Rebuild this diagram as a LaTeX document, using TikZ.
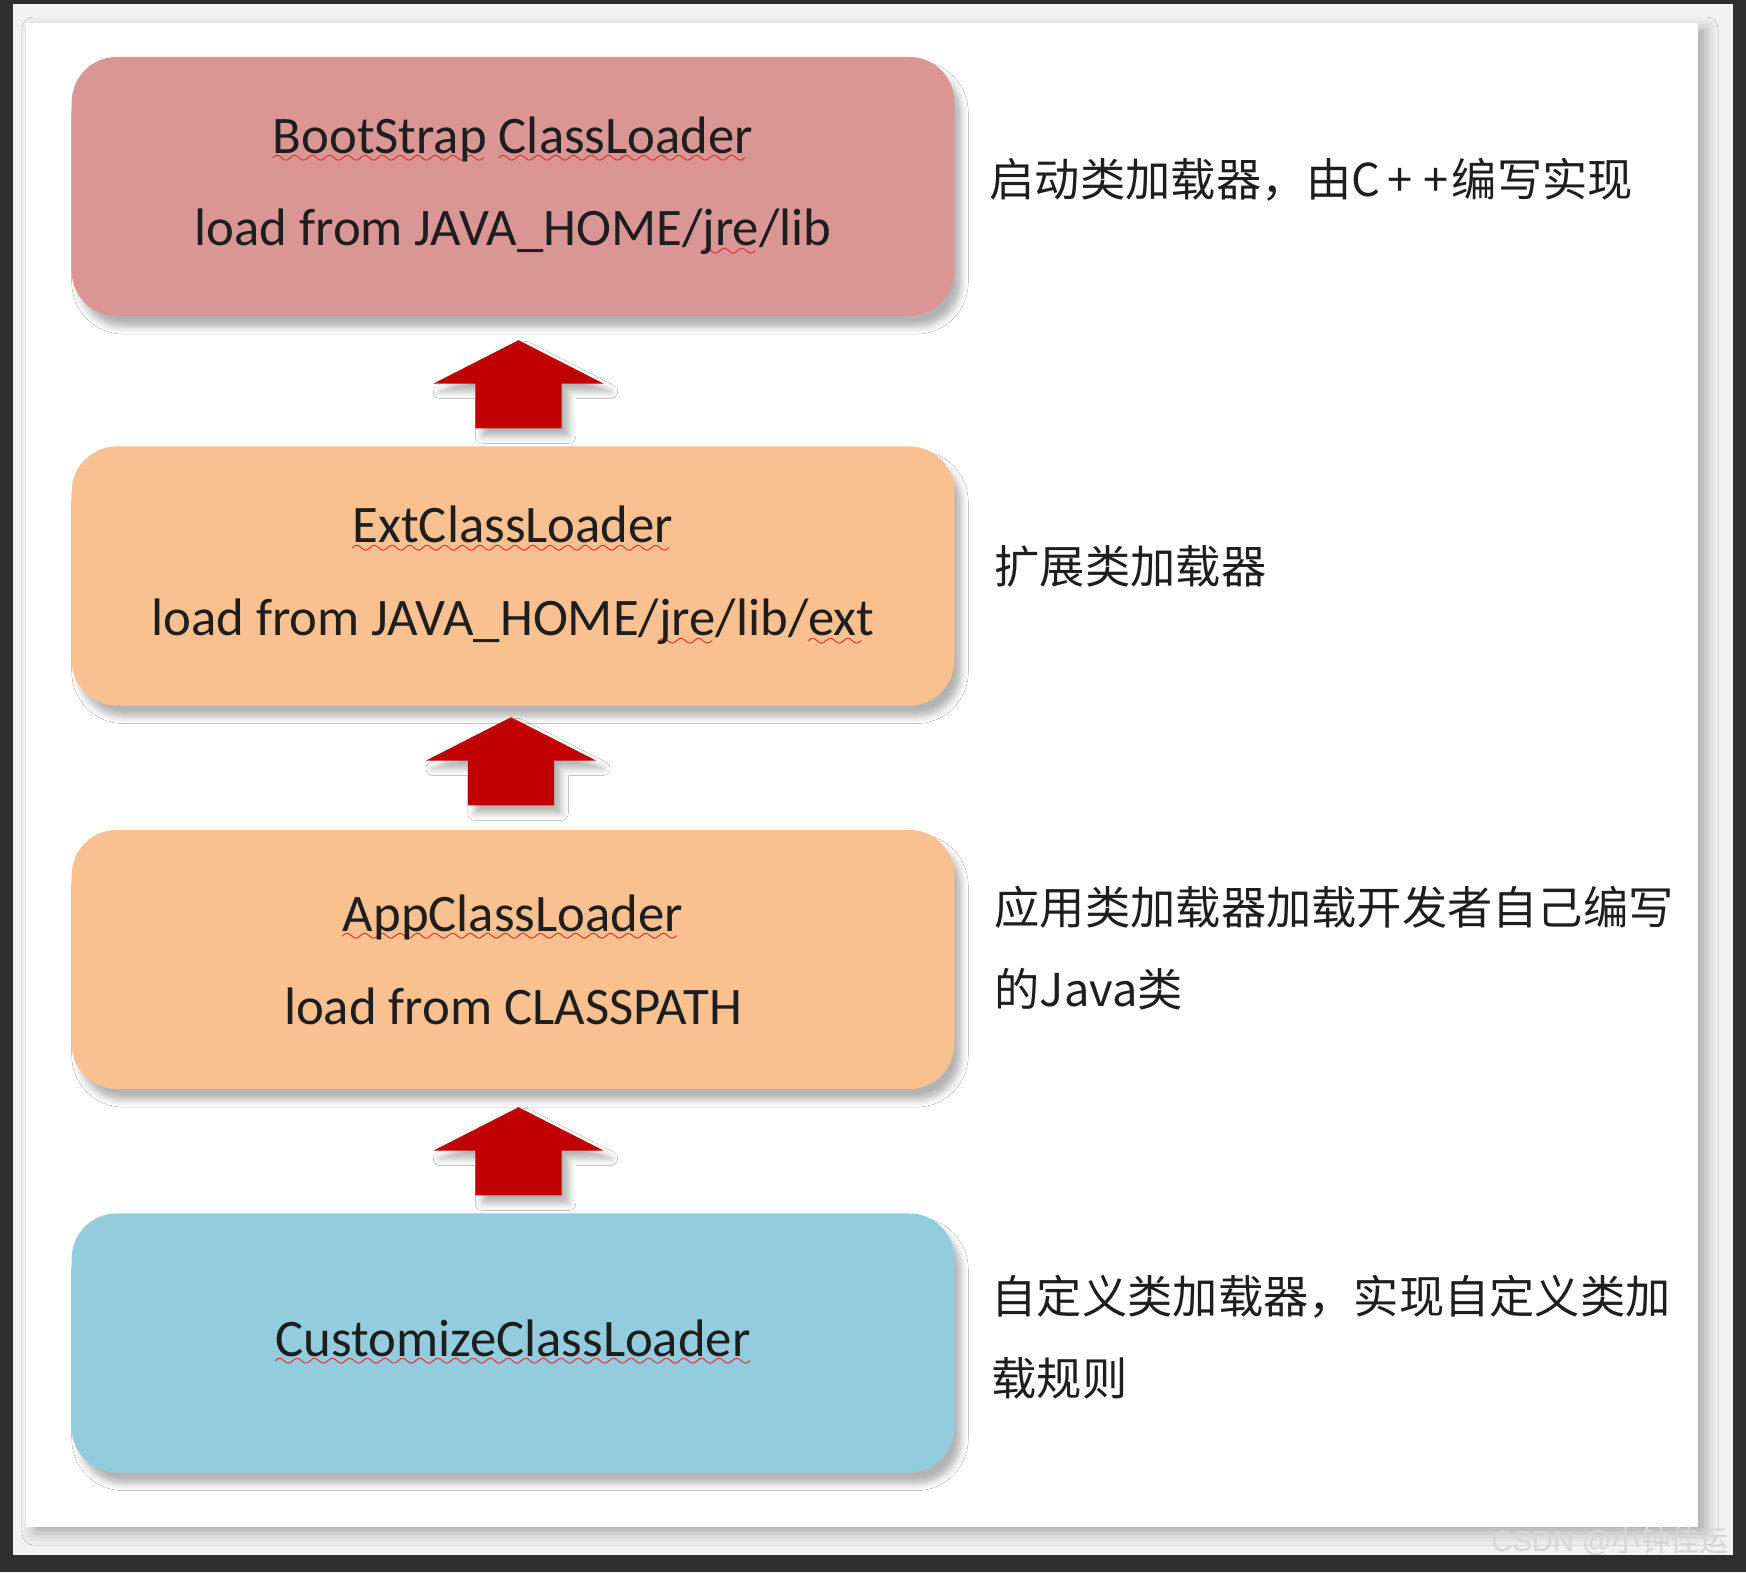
\documentclass[tikz,border=0pt]{standalone}
\usepackage{fontspec}
\setmainfont{Carlito}
\newfontfamily\cjk{Noto Sans CJK SC}
\newfontfamily\marksans{Liberation Sans}
\usetikzlibrary{shapes.arrows,shadows.blur,calc}

\definecolor{pagebg}{RGB}{46,46,46}
\definecolor{bandgray}{RGB}{242,242,242}
\definecolor{bootpink}{RGB}{217,150,148}
\definecolor{extorange}{RGB}{249,192,144}
\definecolor{custblue}{RGB}{147,205,221}
\definecolor{arrowred}{RGB}{192,0,0}
\definecolor{spellred}{RGB}{232,40,40}
\definecolor{inkgray}{RGB}{30,30,30}
\definecolor{markgray}{RGB}{214,214,214}

% red wavy spell-check underline
\font\wavefont=lasy6
\newbox\spellbox
\newcommand\spellmark[1]{\setbox\spellbox\hbox{#1}%
  \rlap{\lower3pt\hbox{\color{spellred}\leaders\hbox{\wavefont\char58}\hskip\wd\spellbox}}\box\spellbox}

\tikzset{
  loaderbox/.style={rounded corners=0.45cm, minimum width=8.82cm, minimum height=2.59cm,
    align=center, text=inkgray, font=\fontsize{15}{26.4}\selectfont,
    blur shadow={shadow xshift=0.07cm, shadow yshift=-0.11cm, shadow blur radius=0.07cm, shadow opacity=30}},
  uparrow/.style={single arrow, rotate=90, fill=arrowred, draw=none,
    inner xsep=0pt, inner ysep=0.425cm, single arrow head extend=0.42cm,
    single arrow tip angle=126, single arrow head indent=0pt, minimum height=0.88cm,
    blur shadow={shadow xshift=0.07cm, shadow yshift=-0.08cm, shadow blur radius=0.07cm, shadow opacity=30}},
  note/.style={anchor=west, align=left, inner sep=0pt, text=inkgray,
    font=\cjk\fontsize{12.87}{23.3}\selectfont}
}

\begin{document}
\begin{tikzpicture}[x=0.01cm, y=-0.01cm]

   \useasboundingbox (0,0) rectangle (1746,1572);
   \fill [pagebg] (0,0) rectangle (1746,1572);
   \fill [bandgray] (13,4) rectangle (1733,1555);
   \fill [white, blur shadow={shadow xshift=0.08cm, shadow yshift=-0.06cm, shadow blur radius=0.12cm, shadow opacity=30}] (26,23) rectangle (1698,1527);

   % the four loaders
   \node[loaderbox, fill=bootpink] (boot) at (513,186.5)
      {\spellmark{BootStrap} \spellmark{ClassLoader}\\load from JAVA\_HOME/\spellmark{jre}/lib};
   \node[loaderbox, fill=extorange] (ext) at (513,576)
      {\spellmark{ExtClassLoader}\\load from JAVA\_HOME/\spellmark{jre}/lib/\spellmark{ext}};
   \node[loaderbox, fill=extorange] (app) at (513,959.5)
      {\spellmark{AppClassLoader}\\load from CLASSPATH};
   \node[loaderbox, fill=custblue] (cust) at (513,1343)
      {\spellmark{CustomizeClassLoader}};

   % block arrows between them
   \node[uparrow] (up1) at ($(boot.south)!0.5!(ext.north)+(5.5,14)$) {};
   \node[uparrow] (up2) at ($(ext.south)!0.5!(app.north)+(-2,4.5)$) {};
   \node[uparrow] (up3) at ($(app.south)!0.5!(cust.north)+(5.5,11)$) {};

   % notes on the right
   \node[note] (bootnote) at (989,180) {启动类加载器，由C\kern2pt+\kern3pt+\kern1pt编写实现};
   \node[note] (extnote) at (994,566) {扩展类加载器};
   \node[note] (appnote) at (994,948) {应用类加载器加载开发者自己编写\\的Java类};
   \node[note] (custnote) at (991,1337.5) {自定义类加载器，实现自定义类加\\载规则};

   \node[text=markgray, inner sep=0pt, font=\marksans\fontsize{8.3}{10}\selectfont] (mark) at (1610,1541) {CSDN @{\cjk 小钟佳运}};

\end{tikzpicture}
\end{document}
